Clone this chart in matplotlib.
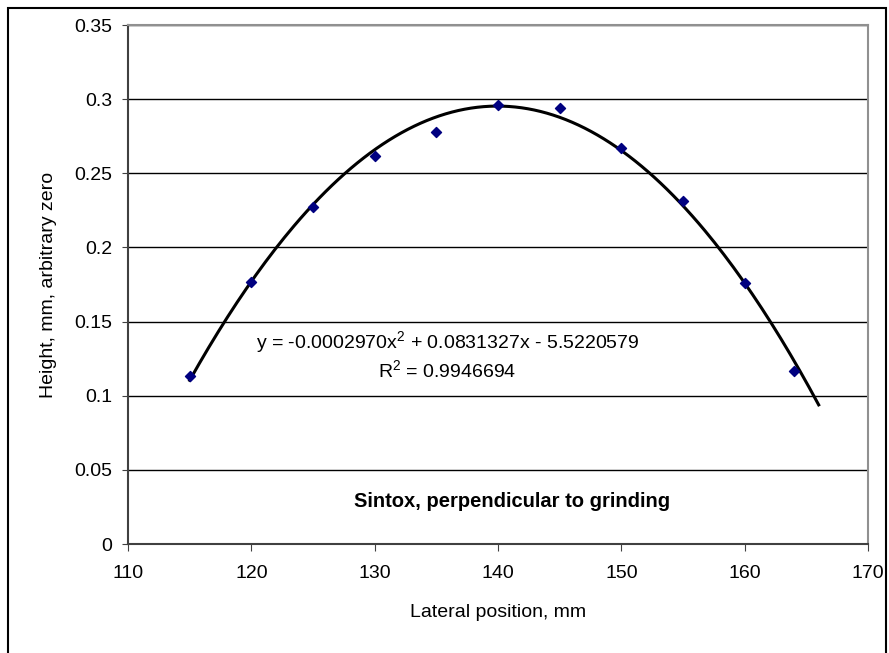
import numpy as np
import matplotlib.pyplot as plt

plt.rcParams['font.family'] = ['Liberation Sans', 'DejaVu Sans']
plt.rcParams['mathtext.fontset'] = 'custom'
plt.rcParams['mathtext.rm'] = 'Liberation Sans'

# Dados medidos
posicao = [115, 120, 125, 130, 135, 140, 145, 150, 155, 160, 164]
altura = [0.113, 0.177, 0.227, 0.262, 0.278, 0.296, 0.294, 0.267, 0.231, 0.176, 0.117]

# Coeficientes da linha de tendência (polinomial de 2a ordem)
coef = [-0.0002970, 0.0831327, -5.5220579]
r2 = 0.9946694
x_tend = np.linspace(115, 166, 200)
y_tend = np.polyval(coef, x_tend)

fig = plt.figure(figsize=(8.89, 6.53), dpi=100)
ax = fig.add_axes([0.144, 0.1669, 0.8324, 0.7948])

# Borda externa do gráfico (a parte de baixo fica fora da imagem)
fig.patches.append(plt.Rectangle((0.009, -0.02), 0.9876, 1.0077, transform=fig.transFigure,
                                 fill=False, edgecolor='black', linewidth=1.5))

# Grade horizontal
ax.set_yticks(np.arange(0, 0.351, 0.05))
ax.set_yticklabels(['0', '0.05', '0.1', '0.15', '0.2', '0.25', '0.3', '0.35'])
ax.set_xticks(range(110, 171, 10))
ax.grid(True, axis='y', color='black', linewidth=1)
ax.set_axisbelow(True)

ax.plot(x_tend, y_tend, color='black', linewidth=2.2)
ax.scatter(posicao, altura, marker='D', s=26, color='#000080', zorder=3)

ax.set_xlim(110, 170)
ax.set_ylim(0, 0.35)

for lado in ['top', 'right']:
    ax.spines[lado].set_color('#909090')
    ax.spines[lado].set_linewidth(1.5)
for lado in ['left', 'bottom']:
    ax.spines[lado].set_color('#404040')
    ax.spines[lado].set_linewidth(1.5)

ax.tick_params(axis='y', direction='out', length=4.5, pad=7, labelsize=14, color='#404040')
ax.tick_params(axis='x', direction='out', length=5, pad=10, labelsize=14, color='#404040')

ax.set_xlabel('Lateral position, mm', fontsize=14, labelpad=16)
ax.set_ylabel('Height, mm, arbitrary zero', fontsize=14, labelpad=12)

ax.text(135.9, 0.1355, 'y = -0.0002970x$^{2}$ + 0.0831327x - 5.5220579', fontsize=14,
        ha='center', va='center')
ax.text(135.9, 0.1167, 'R$^{2}$ = 0.9946694', fontsize=14, ha='center', va='center')
ax.text(141.1, 0.029, 'Sintox, perpendicular to grinding', fontsize=14.5,
        fontweight='bold', ha='center', va='center')

plt.savefig('out.png', dpi=100)
